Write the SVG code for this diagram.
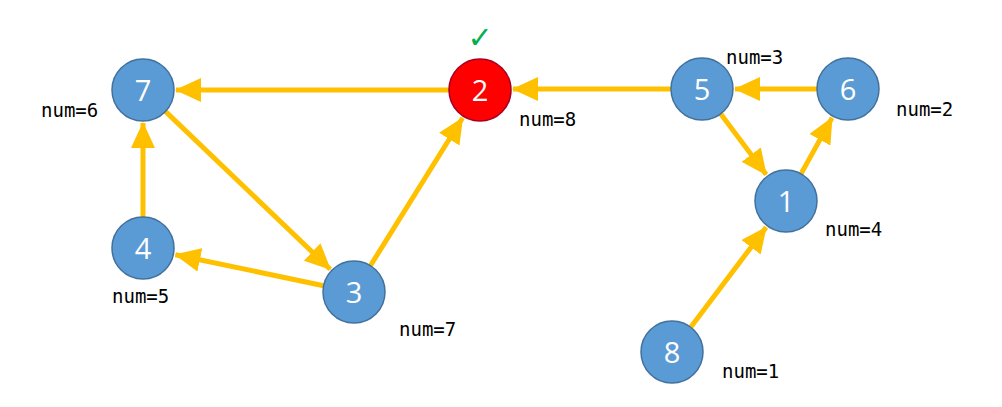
<svg xmlns="http://www.w3.org/2000/svg" width="1002" height="407" viewBox="0 0 1002 407">
<defs>
<marker id="arr" markerUnits="userSpaceOnUse" markerWidth="26" markerHeight="24" refX="25" refY="12" orient="auto">
<path d="M0,0 L26,12 L0,24 z" fill="#FFC000"/>
</marker>
<style>
.node{fill:#5B9BD5;stroke:#41719C;stroke-width:1.5}
.red{fill:#FF0000;stroke:#A50021;stroke-width:1.5}
.lbl{font-family:"Open Sans","Liberation Sans",Arial,sans-serif;font-size:29px;fill:#fff;text-anchor:middle}
.num{font-family:"DejaVu Sans Mono","Liberation Mono",monospace;font-size:19px;fill:#000}
.edge{stroke:#FFC000;stroke-width:5;fill:none;marker-end:url(#arr)}
</style>
</defs>
<rect width="1002" height="407" fill="#fff"/>
<g id="connectors">
<line class="edge" x1="449" y1="90" x2="176" y2="90"/>
<line class="edge" x1="671" y1="89" x2="513" y2="89"/>
<line class="edge" x1="817" y1="89" x2="735" y2="89"/>
<line class="edge" x1="720.6" y1="113.8" x2="766.2" y2="174.6"/>
<line class="edge" x1="801" y1="173.9" x2="832" y2="117.9"/>
<line class="edge" x1="690.7" y1="327.3" x2="766.1" y2="227.3"/>
<line class="edge" x1="165.4" y1="111.4" x2="330.2" y2="269.2"/>
<line class="edge" x1="143" y1="217" x2="143" y2="123"/>
<line class="edge" x1="323.6" y1="285.7" x2="175.4" y2="254.7"/>
<line class="edge" x1="370.4" y1="265.7" x2="462.5" y2="118"/>
</g>
<g id="node7"><circle class="node" cx="143" cy="90" r="31"/><text class="lbl" x="143" y="101">7</text><text class="num" x="41" y="117">num=6</text></g>
<g id="node2"><circle class="red" cx="480" cy="90" r="31"/><text class="lbl" x="480" y="101">2</text><text class="num" x="519" y="126">num=8</text><text x="480" y="48" font-family="DejaVu Sans,sans-serif" font-size="30" font-weight="bold" fill="#00B050" text-anchor="middle">✓</text></g>
<g id="node5"><circle class="node" cx="702" cy="89" r="31"/><text class="lbl" x="702" y="100">5</text><text class="num" x="726" y="64">num=3</text></g>
<g id="node6"><circle class="node" cx="848" cy="89" r="31"/><text class="lbl" x="848" y="100">6</text><text class="num" x="896" y="116">num=2</text></g>
<g id="node1"><circle class="node" cx="786" cy="201" r="31"/><text class="lbl" x="786" y="212">1</text><text class="num" x="825" y="236">num=4</text></g>
<g id="node4"><circle class="node" cx="143" cy="248" r="31"/><text class="lbl" x="143" y="259">4</text><text class="num" x="112" y="303">num=5</text></g>
<g id="node3"><circle class="node" cx="354" cy="292" r="31"/><text class="lbl" x="354" y="303">3</text><text class="num" x="399" y="336">num=7</text></g>
<g id="node8"><circle class="node" cx="672" cy="352" r="31"/><text class="lbl" x="672" y="363">8</text><text class="num" x="722" y="378">num=1</text></g>
</svg>
